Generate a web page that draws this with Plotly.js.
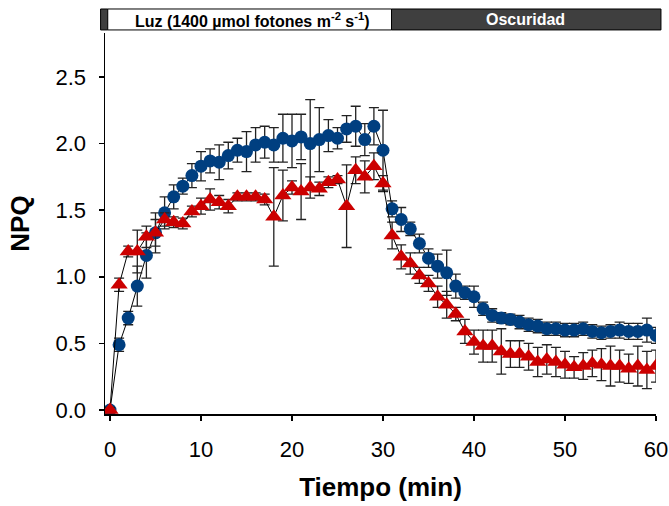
<!DOCTYPE html>
<html>
<head>
<meta charset="utf-8">
<script src="https://cdn.plot.ly/plotly-3.0.1.min.js"></script>
<style>html,body{margin:0;padding:0;background:#fff;}</style>
</head>
<body>
<div id="chart" style="width:669px;height:506px;"></div>
<script>
const tiempo = [0,1,2,3,4,5,6,7,8,9,10,11,12,13,14,15,16,17,18,19,20,21,22,23,24,25,26,27,28,29,30,31,32,33,34,35,36,37,38,39,40,41,42,43,44,45,46,47,48,49,50,51,52,53,54,55,56,57,58,59,60];

const serieAzul = [0.00,0.49,0.69,0.93,1.16,1.33,1.48,1.60,1.68,1.76,1.83,1.87,1.86,1.91,1.95,1.94,1.99,2.01,1.99,2.04,2.02,2.05,2.00,2.03,2.06,2.04,2.11,2.13,2.03,2.13,1.95,1.51,1.43,1.36,1.25,1.14,1.08,1.03,0.93,0.88,0.85,0.76,0.71,0.69,0.68,0.66,0.64,0.63,0.61,0.61,0.60,0.60,0.61,0.59,0.58,0.59,0.60,0.59,0.59,0.60,0.56];
const errorAzul = [0.02,0.05,0.05,0.15,0.17,0.15,0.12,0.09,0.06,0.09,0.11,0.09,0.13,0.10,0.09,0.15,0.13,0.12,0.13,0.18,0.20,0.17,0.33,0.24,0.12,0.08,0.10,0.15,0.12,0.14,0.30,0.06,0.09,0.05,0.07,0.07,0.09,0.17,0.09,0.05,0.08,0.05,0.05,0.04,0.04,0.05,0.05,0.05,0.05,0.05,0.05,0.05,0.05,0.05,0.05,0.05,0.06,0.06,0.06,0.09,0.06];

const serieRoja = [0.00,0.94,1.19,1.19,1.30,1.33,1.43,1.41,1.40,1.49,1.53,1.58,1.56,1.53,1.60,1.60,1.60,1.58,1.45,1.61,1.67,1.64,1.67,1.66,1.71,1.73,1.53,1.80,1.75,1.83,1.70,1.31,1.15,1.10,1.01,0.95,0.85,0.79,0.72,0.59,0.51,0.48,0.48,0.44,0.42,0.42,0.40,0.36,0.38,0.36,0.34,0.32,0.33,0.35,0.34,0.33,0.33,0.31,0.33,0.30,0.33];
const errorRoja = [0.02,0.05,0.04,0.16,0.08,0.10,0.05,0.04,0.04,0.04,0.06,0.08,0.05,0.05,0.03,0.03,0.03,0.04,0.37,0.19,0.05,0.21,0.08,0.05,0.04,0.03,0.31,0.10,0.12,0.10,0.06,0.10,0.09,0.08,0.06,0.06,0.08,0.10,0.05,0.09,0.09,0.12,0.12,0.17,0.10,0.10,0.10,0.11,0.11,0.11,0.10,0.08,0.10,0.10,0.12,0.15,0.12,0.11,0.15,0.14,0.12];

const xTicks = [0,10,20,30,40,50,60];
const yTicks = [0.0,0.5,1.0,1.5,2.0,2.5];
const textoLuz = '<b>Luz (1400 \u00b5mol fotones m<sup>-2</sup> s<sup>-1</sup>)</b>';
const textoOsc = '<b>Oscuridad</b>';

const FONT = 'Liberation Sans, Arial, sans-serif';

const traces = [
  {
    x: tiempo, y: serieAzul, type: 'scatter', mode: 'lines+markers',
    line: {color: '#000000', width: 1},
    marker: {symbol: 'circle', size: 13, color: '#003f80'},
    error_y: {type: 'data', array: errorAzul, visible: true, color: '#222222', thickness: 1.3, width: 5},
    showlegend: false, hoverinfo: 'skip'
  },
  {
    x: tiempo, y: serieRoja, type: 'scatter', mode: 'lines+markers',
    line: {color: '#000000', width: 1},
    marker: {symbol: 'triangle-up', size: 15, color: '#cc0000'},
    error_y: {type: 'data', array: errorRoja, visible: true, color: '#222222', thickness: 1.3, width: 5},
    showlegend: false, hoverinfo: 'skip'
  }
];

const layout = {
  width: 669, height: 506,
  margin: {l: 105, r: 13, t: 33, b: 92},
  paper_bgcolor: '#ffffff', plot_bgcolor: '#ffffff',
  font: {family: FONT, color: '#000000', size: 22},
  xaxis: {
    range: [-0.55, 60], tickvals: xTicks, ticktext: xTicks.map(String),
    ticks: 'outside', ticklen: 5, tickwidth: 1.5, tickcolor: '#000',
    ticklabelstandoff: 10,
    showline: true, linecolor: '#000', linewidth: 1.5,
    showgrid: false, zeroline: false,
    tickfont: {family: FONT, size: 22, color: '#000'},
    title: {text: '<b>Tiempo (min)</b>', font: {family: FONT, size: 26, color: '#000'}, standoff: 17}
  },
  yaxis: {
    range: [-0.03, 2.83], tickvals: yTicks, ticktext: yTicks.map(v => v.toFixed(1)),
    ticks: 'outside', ticklen: 5, tickwidth: 1.5, tickcolor: '#000',
    ticklabelstandoff: 8,
    showline: true, linecolor: '#000', linewidth: 1.5,
    showgrid: false, zeroline: false,
    tickfont: {family: FONT, size: 22, color: '#000'},
    title: {text: '<b>NPQ</b>', font: {family: FONT, size: 26, color: '#000'}, standoff: 18}
  },
  shapes: [
    {type: 'rect', xref: 'paper', yref: 'paper', x0: -0.008, x1: 0.005, y0: 1.008, y1: 1.063,
     fillcolor: '#3f3f3f', line: {color: '#000', width: 1}},
    {type: 'rect', xref: 'paper', yref: 'paper', x0: 0.005, x1: 0.520, y0: 1.008, y1: 1.063,
     fillcolor: '#ffffff', line: {color: '#000', width: 1}},
    {type: 'rect', xref: 'paper', yref: 'paper', x0: 0.520, x1: 1.009, y0: 1.008, y1: 1.063,
     fillcolor: '#3f3f3f', line: {color: '#000', width: 1}}
  ],
  annotations: [
    {xref: 'paper', yref: 'paper', x: 0.267, y: 1.035, text: textoLuz, showarrow: false,
     xanchor: 'center', yanchor: 'middle', font: {family: FONT, size: 16, color: '#000'}},
    {xref: 'paper', yref: 'paper', x: 0.764, y: 1.035, text: textoOsc, showarrow: false,
     xanchor: 'center', yanchor: 'middle', font: {family: FONT, size: 16, color: '#ffffff'}}
  ]
};

Plotly.newPlot('chart', traces, layout, {displayModeBar: false, staticPlot: true});
</script>
</body>
</html>
